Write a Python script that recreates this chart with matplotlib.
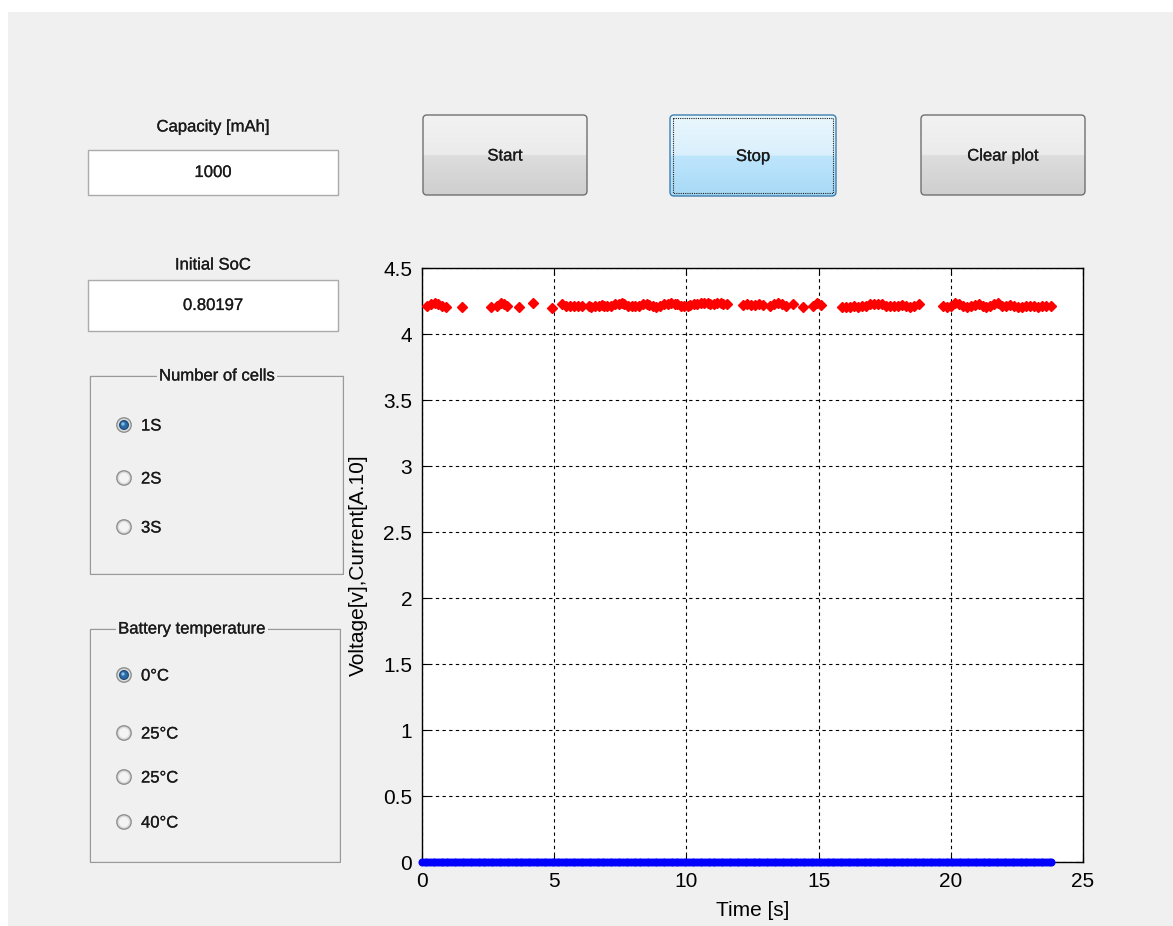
import matplotlib
matplotlib.use('Agg')
import matplotlib.pyplot as plt
import matplotlib.patheffects as pe
import numpy as np
from matplotlib.patches import Rectangle, FancyBboxPatch, Circle

plt.rcParams['font.family'] = ['Liberation Sans', 'DejaVu Sans']

# ---------------- data ----------------
x_ticks = [0, 5, 10, 15, 20, 25]
y_ticks = [0, 0.5, 1, 1.5, 2, 2.5, 3, 3.5, 4, 4.5]
y_tick_labels = ['0', '0.5', '1', '1.5', '2', '2.5', '3', '3.5', '4', '4.5']

voltage_time = [
    0.2, 0.35, 0.5, 0.6, 0.75, 0.9,
    1.5,
    2.6, 2.85, 3.0, 3.1, 3.2,
    3.65, 4.2, 4.9,
    5.3, 5.45, 5.6, 5.75, 5.9, 6.05,
    6.3, 6.4, 6.55, 6.7, 6.8, 6.9, 7.0, 7.15, 7.3, 7.45,
    7.55, 7.65, 7.8, 7.95, 8.05, 8.2, 8.35, 8.5, 8.6, 8.75,
    8.85, 9.0, 9.15, 9.3, 9.4, 9.55, 9.65, 9.8, 9.9, 10.05,
    10.15, 10.3, 10.4, 10.55, 10.65, 10.8, 10.9, 11.05, 11.15, 11.3,
    11.4, 11.55,
    12.15, 12.3, 12.45, 12.6, 12.75, 12.9,
    13.15, 13.3, 13.45, 13.6, 13.75,
    14.05, 14.4,
    14.8, 14.95, 15.1,
    15.9, 16.05, 16.2, 16.35, 16.5, 16.65, 16.8, 16.95, 17.1, 17.25,
    17.4, 17.55, 17.7, 17.85, 18.0, 18.15, 18.3, 18.45, 18.6, 18.8,
    19.7, 19.85, 20.0, 20.15, 20.3, 20.45, 20.6, 20.75, 20.9, 21.05,
    21.2, 21.35, 21.5, 21.65, 21.8, 21.95, 22.1, 22.25, 22.4, 22.55,
    22.7, 22.85, 23.0, 23.15, 23.3, 23.45, 23.6, 23.8,
]
voltage = [
    4.21, 4.225, 4.235, 4.23, 4.215, 4.205,
    4.205,
    4.205, 4.215, 4.235, 4.225, 4.21,
    4.205, 4.235, 4.2,
    4.225, 4.215, 4.21, 4.21, 4.21, 4.21,
    4.21, 4.205, 4.21, 4.215, 4.22, 4.215, 4.21, 4.215, 4.225, 4.23,
    4.235, 4.225, 4.215, 4.21, 4.21, 4.215, 4.225, 4.23, 4.22, 4.21,
    4.205, 4.215, 4.225, 4.23, 4.235, 4.23, 4.225, 4.215, 4.21, 4.215,
    4.22, 4.225, 4.23, 4.235, 4.235, 4.235, 4.23, 4.23, 4.235, 4.235,
    4.23, 4.225,
    4.22, 4.225, 4.22, 4.22, 4.225, 4.22,
    4.215, 4.225, 4.235, 4.225, 4.21,
    4.225, 4.205,
    4.21, 4.235, 4.22,
    4.205, 4.205, 4.205, 4.21, 4.205, 4.21, 4.215, 4.225, 4.23, 4.23,
    4.225, 4.215, 4.21, 4.21, 4.21, 4.22, 4.215, 4.205, 4.215, 4.225,
    4.21, 4.205, 4.215, 4.235, 4.225, 4.215, 4.205, 4.21, 4.22, 4.225,
    4.215, 4.205, 4.21, 4.225, 4.235, 4.215, 4.21, 4.22, 4.21, 4.205,
    4.205, 4.21, 4.21, 4.21, 4.205, 4.21, 4.21, 4.21,
]

current_time = [
    0.0, 0.1, 0.2, 0.3, 0.4, 0.5, 0.6, 0.7, 0.8, 0.9,
    1.0, 1.1, 1.2, 1.3, 1.4, 1.5, 1.6, 1.7, 1.8, 1.9,
    2.0, 2.1, 2.2, 2.3, 2.4, 2.5, 2.6, 2.7, 2.8, 2.9,
    3.0, 3.1, 3.2, 3.3, 3.4, 3.5, 3.6, 3.7, 3.8, 3.9,
    4.0, 4.1, 4.2, 4.3, 4.4, 4.5, 4.6, 4.7, 4.8, 4.9,
    5.0, 5.1, 5.2, 5.3, 5.4, 5.5, 5.6, 5.7, 5.8, 5.9,
    6.0, 6.1, 6.2, 6.3, 6.4, 6.5, 6.6, 6.7, 6.8, 6.9,
    7.0, 7.1, 7.2, 7.3, 7.4, 7.5, 7.6, 7.7, 7.8, 7.9,
    8.0, 8.1, 8.2, 8.3, 8.4, 8.5, 8.6, 8.7, 8.8, 8.9,
    9.0, 9.1, 9.2, 9.3, 9.4, 9.5, 9.6, 9.7, 9.8, 9.9,
    10.0, 10.1, 10.2, 10.3, 10.4, 10.5, 10.6, 10.7, 10.8, 10.9,
    11.0, 11.1, 11.2, 11.3, 11.4, 11.5, 11.6, 11.7, 11.8, 11.9,
    12.0, 12.1, 12.2, 12.3, 12.4, 12.5, 12.6, 12.7, 12.8, 12.9,
    13.0, 13.1, 13.2, 13.3, 13.4, 13.5, 13.6, 13.7, 13.8, 13.9,
    14.0, 14.1, 14.2, 14.3, 14.4, 14.5, 14.6, 14.7, 14.8, 14.9,
    15.0, 15.1, 15.2, 15.3, 15.4, 15.5, 15.6, 15.7, 15.8, 15.9,
    16.0, 16.1, 16.2, 16.3, 16.4, 16.5, 16.6, 16.7, 16.8, 16.9,
    17.0, 17.1, 17.2, 17.3, 17.4, 17.5, 17.6, 17.7, 17.8, 17.9,
    18.0, 18.1, 18.2, 18.3, 18.4, 18.5, 18.6, 18.7, 18.8, 18.9,
    19.0, 19.1, 19.2, 19.3, 19.4, 19.5, 19.6, 19.7, 19.8, 19.9,
    20.0, 20.1, 20.2, 20.3, 20.4, 20.5, 20.6, 20.7, 20.8, 20.9,
    21.0, 21.1, 21.2, 21.3, 21.4, 21.5, 21.6, 21.7, 21.8, 21.9,
    22.0, 22.1, 22.2, 22.3, 22.4, 22.5, 22.6, 22.7, 22.8, 22.9,
    23.0, 23.1, 23.2, 23.3, 23.4, 23.5, 23.6, 23.7, 23.8,
]
current = [0.0] * len(current_time)

cell_options = ['1S', '2S', '3S']
temp_options = ['0°C', '25°C', '25°C', '40°C']

# ---------------- figure / GUI background ----------------
W, H = 1173, 926
fig = plt.figure(figsize=(W / 100, H / 100), dpi=100, facecolor='white')
bg = fig.add_axes([0, 0, 1, 1], zorder=0)
bg.axis('off')

GUI_FONT = 12
TXT = '#1a1a1a'
HEAVY = [pe.withStroke(linewidth=0.18, foreground=TXT)]
bg.add_patch(Rectangle((8, 12), W - 8, H - 12, fc='#f0f0f0', ec='none', zorder=0))


def gui_text(x, y, s, ha='center', **kw):
    return bg.text(x, y, s, ha=ha, va='center', fontsize=GUI_FONT, color=TXT,
                   path_effects=HEAVY, **kw)


def gradient(x0, y0, x1, y1, top, mid1, mid2, bottom, split, clip):
    n = 200
    k = int(n * split)
    img = np.zeros((n, 1, 3))
    c = [np.array(matplotlib.colors.to_rgb(v)) for v in (top, mid1, mid2, bottom)]
    for i in range(n):
        if i < k:
            f = i / max(k - 1, 1)
            img[i, 0] = c[0] * (1 - f) + c[1] * f
        else:
            f = (i - k) / max(n - k - 1, 1)
            img[i, 0] = c[2] * (1 - f) + c[3] * f
    im = bg.imshow(img, extent=(x0, x1, y1, y0), origin='upper', aspect='auto',
                   interpolation='bilinear', zorder=2)
    im.set_clip_path(clip)


def button(x0, y0, x1, y1, label, focused=False):
    patch = FancyBboxPatch((x0, y0), x1 - x0, y1 - y0,
                           boxstyle='round,pad=0,rounding_size=4',
                           fc='none', ec='#3c7fb1' if focused else '#707070',
                           lw=1.0, zorder=3)
    bg.add_patch(patch)
    if focused:
        gradient(x0, y0, x1, y1, '#eaf6fd', '#d9f0fc', '#bee6fd', '#a7d9f5', 0.5, patch)
        bg.add_patch(Rectangle((x0 + 3, y0 + 3), x1 - x0 - 6, y1 - y0 - 6, fc='none',
                               ec='#202020', lw=0.8, ls=(0, (1, 1)), zorder=4))
    else:
        gradient(x0, y0, x1, y1, '#f2f2f2', '#ebebeb', '#dddddd', '#cfcfcf', 0.5, patch)
    gui_text((x0 + x1) / 2, (y0 + y1) / 2 + 1, label, zorder=5)


def edit_box(x0, y0, x1, y1, value):
    bg.add_patch(Rectangle((x0, y0), x1 - x0, y1 - y0, fc='white', ec='#ababab', lw=1, zorder=2))
    gui_text((x0 + x1) / 2, (y0 + y1) / 2, value, zorder=3)


def frame(x0, y0, x1, y1, title, tx):
    bg.add_patch(Rectangle((x0 + 1, y0 + 1), x1 - x0, y1 - y0, fc='none', ec='white', lw=1, zorder=2))
    bg.add_patch(Rectangle((x0, y0), x1 - x0, y1 - y0, fc='none', ec='#9a9a9a', lw=1, zorder=2))
    gui_text(tx, y0, title, zorder=4,
             bbox=dict(boxstyle='square,pad=0.1', fc='#f0f0f0', ec='none'))


def radio(x, y, label, selected):
    bg.add_patch(Circle((x, y), 7.2, fc='#dcdcdc', ec='#8e8f8f', lw=1, zorder=3))
    if selected:
        bg.add_patch(Circle((x, y), 4.4, fc='#2a6aa6', ec='#1a4670', lw=0.8, zorder=4))
        bg.add_patch(Circle((x - 1, y - 1), 1.7, fc='#86bce8', ec='none', zorder=5))
    else:
        bg.add_patch(Circle((x, y), 5.0, fc='#f4f4f4', ec='none', zorder=4))
    gui_text(x + 17, y + 1, label, ha='left', zorder=4)


# labels and edit boxes
gui_text(213, 127, 'Capacity [mAh]')
edit_box(88, 150, 338, 195, '1000')
gui_text(213, 265, 'Initial SoC')
edit_box(88, 280, 338, 331, '0.80197')

# buttons
button(423, 115, 587, 195, 'Start')
button(670, 115, 836, 196, 'Stop', focused=True)
button(921, 115, 1085, 195, 'Clear plot')

# panels
frame(90, 376, 343, 574, 'Number of cells', 217)
for lab, yy, sel in zip(cell_options, [425, 478, 527], [True, False, False]):
    radio(124, yy, lab, sel)

frame(90, 629, 340, 862, 'Battery temperature', 192)
for lab, yy, sel in zip(temp_options, [675, 733, 777, 822], [True, False, False, False]):
    radio(124, yy, lab, sel)

bg.set_xlim(0, W)
bg.set_ylim(H, 0)

# ---------------- plot axes ----------------
ax = fig.add_axes([422 / W, (H - 862) / H, 661 / W, 594 / H], zorder=2)
ax.set_facecolor('white')
ax.plot(current_time, current, ls='none', marker='o', ms=4.8, color='blue', mec='blue',
        clip_on=False, zorder=3)
ax.plot(voltage_time, voltage, ls='none', marker='D', ms=5, color='red', mec='red', zorder=3)
ax.set_xlim(0, 25)
ax.set_ylim(0, 4.5)
ax.set_xticks(x_ticks)
ax.set_yticks(y_ticks)
ax.set_yticklabels(y_tick_labels)
ax.grid(True, color='black', ls=(0, (3, 3)), lw=0.8)
ax.tick_params(direction='in', top=True, right=True, length=5, width=0.8,
               labelsize=15, colors='black', pad=7)
for s in ax.spines.values():
    s.set_color('black')
    s.set_linewidth(1.0)
ax.set_xlabel('Time [s]', fontsize=15, va='center')
ax.xaxis.set_label_coords(0.5, -(910 - 862) / 594)
ax.set_ylabel('Voltage[v],Current[A.10]', fontsize=15, va='center')
ax.yaxis.set_label_coords((358 - 422) / 661, 0.5)

fig.savefig('out.png', dpi=100, facecolor='white')
